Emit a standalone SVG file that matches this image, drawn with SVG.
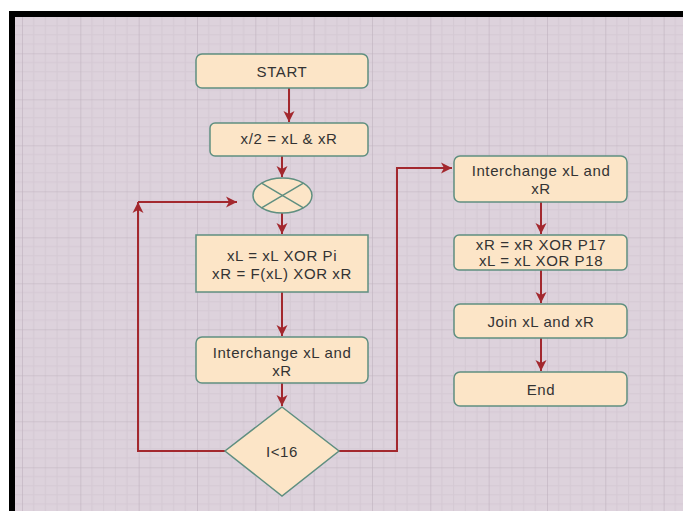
<svg xmlns="http://www.w3.org/2000/svg" width="683" height="511" viewBox="0 0 683 511">
<style>
.node{fill:#fce5c7;stroke:#5f8f80;stroke-width:1.5}
.lbl{font-family:"Liberation Sans",Arial,sans-serif;font-size:15px;fill:#333;text-anchor:middle;dominant-baseline:central;letter-spacing:0.6px}
.con{fill:none;stroke:#a3282e;stroke-width:2}
</style>
<defs>
<pattern id="grid" patternUnits="userSpaceOnUse" x="22" y="7.3" width="58.33" height="46">
<rect width="58.33" height="46" fill="#ddd2dc"/>
<g stroke="#d5c9d4" stroke-width="1">
<line x1="11.67" y1="0" x2="11.67" y2="46"/>
<line x1="23.33" y1="0" x2="23.33" y2="46"/>
<line x1="35" y1="0" x2="35" y2="46"/>
<line x1="46.67" y1="0" x2="46.67" y2="46"/>
<line x1="0" y1="9.2" x2="58.33" y2="9.2"/>
<line x1="0" y1="18.4" x2="58.33" y2="18.4"/>
<line x1="0" y1="27.6" x2="58.33" y2="27.6"/>
<line x1="0" y1="36.8" x2="58.33" y2="36.8"/>
</g>
<g stroke="#bfb2be" stroke-width="1.2">
<line x1="0" y1="0" x2="0" y2="46"/>
<line x1="0" y1="0" x2="58.33" y2="0"/>
</g>
</pattern>
<marker id="arr" markerUnits="userSpaceOnUse" markerWidth="12" markerHeight="12" viewBox="0 0 12 12" refX="11" refY="6" orient="auto">
<path d="M0,0.5 L11,6 L0,11.5 L3,6 Z" fill="#a3282e"/>
</marker>
</defs>
<rect width="683" height="511" fill="#fff"/>
<rect x="15" y="17" width="668" height="494" fill="url(#grid)"/>
<rect x="9" y="11" width="674" height="6" fill="#000"/>
<rect x="9" y="11" width="6" height="500" fill="#000"/>

<g id="connectors">
<line class="con" x1="289" y1="88" x2="289" y2="122" marker-end="url(#arr)"/>
<line class="con" x1="282" y1="156" x2="282" y2="177" marker-end="url(#arr)"/>
<line class="con" x1="282" y1="213" x2="282" y2="234" marker-end="url(#arr)"/>
<line class="con" x1="282" y1="292" x2="282" y2="336" marker-end="url(#arr)"/>
<line class="con" x1="282" y1="383" x2="282" y2="406" marker-end="url(#arr)"/>
<polyline class="con" points="225,451 138,451 138,202" marker-end="url(#arr)"/>
<line class="con" x1="138" y1="202" x2="237" y2="202" marker-end="url(#arr)"/>
<polyline class="con" points="339,451 397,451 397,168 452,168" marker-end="url(#arr)"/>
<line class="con" x1="541" y1="202" x2="541" y2="234" marker-end="url(#arr)"/>
<line class="con" x1="541" y1="270" x2="541" y2="303" marker-end="url(#arr)"/>
<line class="con" x1="541" y1="338" x2="541" y2="371" marker-end="url(#arr)"/>
</g>

<g id="start">
<rect class="node" x="196" y="54" width="172" height="34" rx="6"/>
<text class="lbl" x="282" y="71">START</text>
</g>
<g id="split">
<rect class="node" x="210" y="123" width="158" height="33" rx="5"/>
<text class="lbl" x="289" y="138.5">x/2 = xL &amp; xR</text>
</g>
<g id="xor">
<ellipse class="node" cx="282.5" cy="195.5" rx="29.5" ry="17.5"/>
<line x1="261.6" y1="183.1" x2="303.4" y2="207.9" stroke="#5f8f80" stroke-width="1.5"/>
<line x1="261.6" y1="207.9" x2="303.4" y2="183.1" stroke="#5f8f80" stroke-width="1.5"/>
</g>
<g id="round">
<rect class="node" x="196" y="235" width="172" height="57"/>
<text class="lbl" x="282" y="255.5">xL = xL XOR Pi</text>
<text class="lbl" x="282" y="273.5">xR = F(xL) XOR xR</text>
</g>
<g id="swap1">
<rect class="node" x="196" y="337" width="172" height="46" rx="6"/>
<text class="lbl" x="282" y="352.5">Interchange xL and</text>
<text class="lbl" x="282" y="370">xR</text>
</g>
<g id="decision">
<polygon class="node" points="282,407 339,451 282,496 225,451"/>
<text class="lbl" x="282" y="451.5">I&lt;16</text>
</g>
<g id="swap2">
<rect class="node" x="454" y="156" width="173" height="46" rx="6"/>
<text class="lbl" x="541" y="170.5">Interchange xL and</text>
<text class="lbl" x="541" y="188">xR</text>
</g>
<g id="final">
<rect class="node" x="454" y="235" width="173" height="35" rx="5"/>
<text class="lbl" x="541" y="244">xR = xR XOR P17</text>
<text class="lbl" x="541" y="260.5">xL = xL XOR P18</text>
</g>
<g id="join">
<rect class="node" x="454" y="304" width="173" height="34" rx="6"/>
<text class="lbl" x="541" y="321.5">Join xL and xR</text>
</g>
<g id="end">
<rect class="node" x="454" y="372" width="173" height="34" rx="6"/>
<text class="lbl" x="541" y="389">End</text>
</g>
</svg>
